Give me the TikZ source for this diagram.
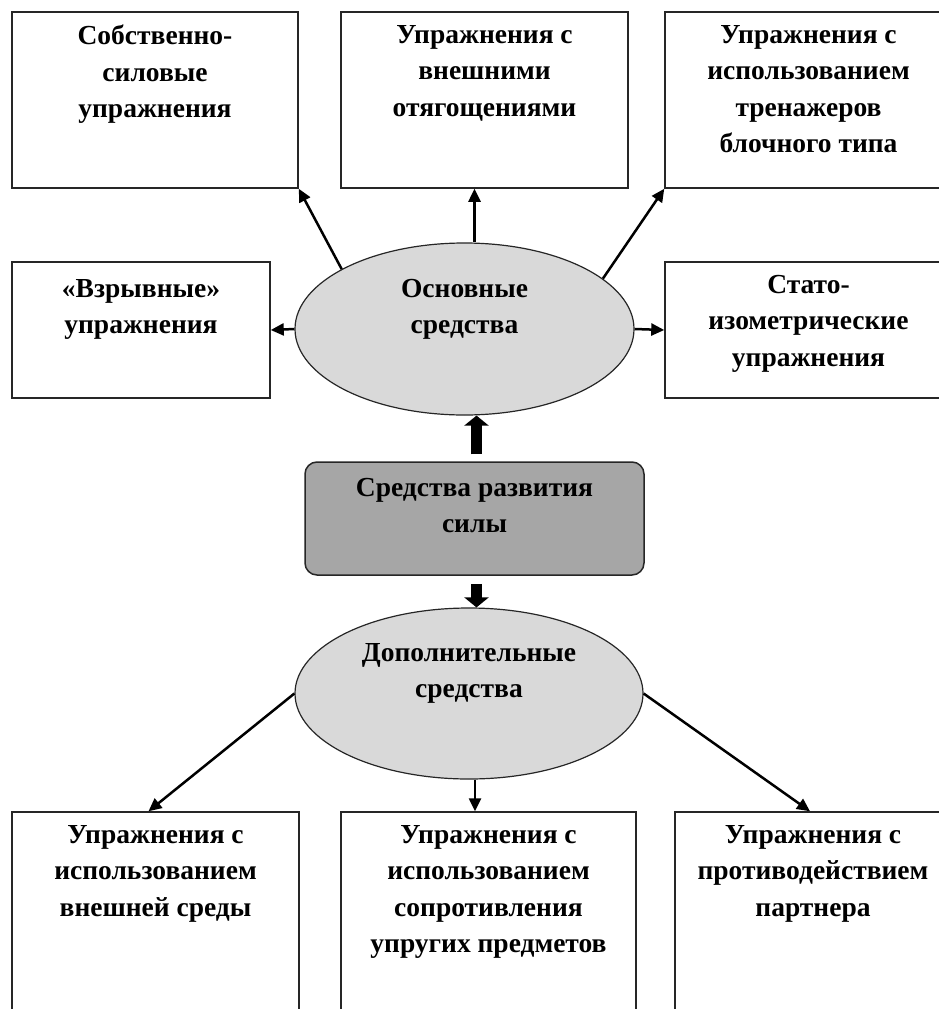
\documentclass[tikz,border=0pt]{standalone}
\usepackage{fontspec}
\setmainfont{Liberation Serif}
\usetikzlibrary{shapes.geometric,arrows.meta}
\definecolor{ovalgray}{RGB}{217,217,217}
\definecolor{boxgray}{RGB}{166,166,166}
\begin{document}
\begin{tikzpicture}[x=1pt,y=-1pt,
  box/.style={draw=black!85, line width=1.5pt, inner sep=0pt},
  lbl/.style={font=\fontsize{27.5}{36.5}\selectfont\bfseries, align=center, inner sep=0pt, anchor=north},
  arr/.style={line width=2.5pt, -{Triangle[length=13pt,width=12pt]}},
  fat/.style={line width=11pt, -{Triangle[length=10pt,width=24pt]}},
  oval/.style={ellipse, draw=black!85, line width=1.2pt, fill=ovalgray, inner sep=0pt}
]
\clip (0,0) rectangle (939,1009);
\fill[white] (0,0) rectangle (939,1009);

% top row
\node[box, minimum width=286pt, minimum height=176pt] (b1) at (155,100) {};
\node[box, minimum width=287pt, minimum height=176pt] (b2) at (484.5,100) {};
\node[box, minimum width=287pt, minimum height=176pt] (b3) at (808.5,100) {};
\node[lbl] (t1) at (155,25) {Собственно-\\силовые\\упражнения};
\node[lbl] (t2) at (484.5,25) {Упражнения с\\внешними\\отягощениями};
\node[lbl] (t3) at (808.5,25) {Упражнения с\\использованием\\тренажеров\\блочного типа};

% second row
\node[box, minimum width=258pt, minimum height=136pt] (b4) at (141,330) {};
\node[box, minimum width=287pt, minimum height=136pt] (b5) at (808.5,330) {};
\node[lbl] (t4) at (141,279) {«Взрывные»\\упражнения};
\node[lbl] (t5) at (808.5,275) {Стато-\\изометрические\\упражнения};

% main ellipse
\node[oval, minimum width=339pt, minimum height=172pt] (e1) at (464.5,329) {};
\node[lbl] (te1) at (464.5,279) {Основные\\средства};

% central box
\node[box, rounded corners=12pt, fill=boxgray, minimum width=339pt, minimum height=113pt] (mid) at (474.5,518.5) {};
\node[lbl] (tm) at (474.5,478) {Средства развития\\силы};

% lower ellipse
\node[oval, minimum width=348pt, minimum height=171pt] (e2) at (469,693.5) {};
\node[lbl] (te2) at (469,643) {Дополнительные\\средства};

% bottom row
\node[box, minimum width=287pt, minimum height=218pt] (b6) at (155.5,921) {};
\node[box, minimum width=295pt, minimum height=218pt] (b7) at (488.5,921) {};
\node[box, minimum width=276pt, minimum height=218pt] (b8) at (813,921) {};
\node[lbl] (t6) at (155.5,825) {Упражнения с\\использованием\\внешней среды};
\node[lbl] (t7) at (488.5,825) {Упражнения с\\использованием\\сопротивления\\упругих предметов};
\node[lbl] (t8) at (813,825) {Упражнения с\\противодействием\\партнера};

% connectors
\draw[arr] (e1.154) -- (b1.south east);
\draw[arr] ([xshift=10pt]e1.north) -- ([xshift=10pt]e1.north |- b2.south);
\draw[arr] (e1.20) -- (b3.south west);
\draw[arr] (e1.west) -- (b4.east);
\draw[arr] (e1.east) -- (b5.west);
\draw[fat] ([xshift=2pt,yshift=7pt]mid.north) -- ([xshift=2pt]mid.north |- e1.south);
\draw[fat] ([xshift=2pt,yshift=-8pt]mid.south) -- ([xshift=2pt]mid.south |- e2.north);
\draw[arr] (e2.west) -- ([xshift=-7pt]b6.north);
\draw[arr] ([xshift=6pt]e2.south) -- ([xshift=6pt]e2.south |- b7.north);
\draw[arr] (e2.east) -- ([xshift=-3pt]b8.north);
\end{tikzpicture}
\end{document}
